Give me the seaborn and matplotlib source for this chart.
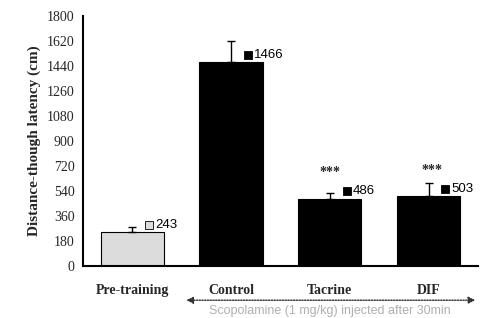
import matplotlib
matplotlib.use("Agg")
import matplotlib.pyplot as plt
import seaborn as sns
import pandas as pd
import numpy as np

categories = ["Pre-training", "Control", "Tacrine", "DIF"]
values = [243, 1466, 486, 503]
errors = [38, 154, 37, 94]
labels = ["243", "1466", "486", "503"]
stars = ["", "", "***", "***"]
yticks = [0, 180, 360, 540, 720, 900, 1080, 1260, 1440, 1620, 1800]
subtitle = "Scopolamine (1 mg/kg) injected after 30min"

sns.set_style("white")
plt.rcParams["font.family"] = ["Liberation Serif", "DejaVu Serif"]

df = pd.DataFrame({"group": categories, "value": values})
fig = plt.figure(figsize=(4.81, 3.18), dpi=100)
ax = fig.add_axes([0.172, 0.163, 0.822, 0.787])

colors = ["#dcdcdc", "black", "black", "black"]
sns.barplot(data=df, x="group", y="value", hue="group", palette=colors,
            order=categories, errorbar=None, width=0.64, ax=ax,
            edgecolor="black", linewidth=0.8, legend=False)

x = np.arange(len(categories))
ax.errorbar(x, values, yerr=[np.zeros(len(values)), errors], fmt="none",
            ecolor="black", elinewidth=1.0, capsize=3, capthick=1.0)

for i, (v, lab, s) in enumerate(zip(values, labels, stars)):
    fc = "#dcdcdc" if i == 0 else "black"
    ax.plot(i + 0.17, v + 55, marker="s", ms=5.5, mfc=fc, mec="black", mew=0.6,
            clip_on=False)
    ax.text(i + 0.23, v + 55, lab, fontsize=9.5, va="center", ha="left",
            family=["Liberation Sans Narrow", "Liberation Sans"], color="black")
    if s:
        ax.text(i + (0.0 if i == 2 else 0.03), v + 140, s, fontsize=10, ha="center",
                va="bottom", fontweight="bold")

ax.set_xlim(-0.5, 3.5)
ax.set_ylim(0, 1800)
ax.set_yticks(yticks)
ax.set_yticklabels([str(t) for t in yticks], fontsize=10)
ax.set_xticks([-0.5, 0.5, 1.5, 2.5, 3.5])
ax.set_xticklabels([])
ax.set_xticks(x, minor=True)
ax.set_xticklabels(categories, minor=True, fontsize=10, fontweight="bold")
ax.tick_params(axis="x", which="minor", length=0, pad=13)
ax.tick_params(axis="x", which="major", length=4, width=1.2, direction="out", color="black")
ax.tick_params(axis="y", length=4, width=1.2, direction="out", color="black", pad=2)
ax.set_xlabel("")
ax.set_ylabel("Distance-though latency (cm)", fontsize=11, fontweight="bold", labelpad=4)
for sp in ["top", "right"]:
    ax.spines[sp].set_visible(False)
for sp in ["left", "bottom"]:
    ax.spines[sp].set_color("black")
    ax.spines[sp].set_linewidth(1.5)

# arrow below the scopolamine groups
ax.annotate("", xy=(3.5, -0.136), xycoords=("data", "axes fraction"),
            xytext=(0.52, -0.136), textcoords=("data", "axes fraction"),
            arrowprops=dict(arrowstyle="<|-|>", color="#333333", lw=1.0,
                            linestyle=(0, (1, 1)), mutation_scale=10))
ax.text(2.0, -0.18, subtitle, transform=ax.get_xaxis_transform(), ha="center",
        va="center", fontsize=9, color="#b0b0b0",
        family=["Liberation Sans", "DejaVu Sans"])

fig.savefig("out.png", dpi=100)
